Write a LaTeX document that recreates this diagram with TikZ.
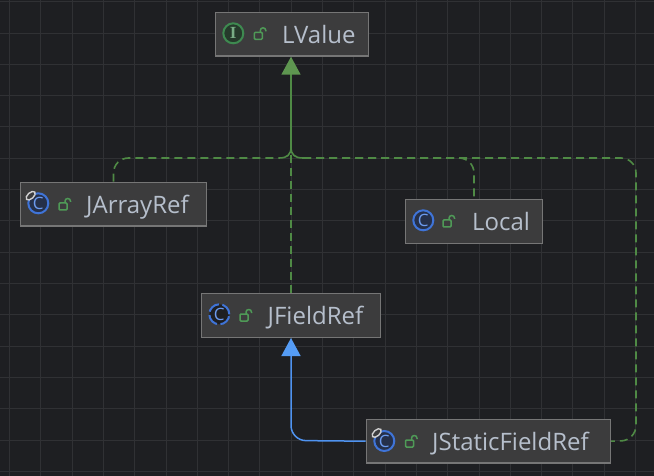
\documentclass[tikz,border=0pt]{standalone}
\usepackage{fontspec}
\setmainfont{Open Sans}
\newfontfamily\glyphfont{Liberation Serif}
\usetikzlibrary{arrows.meta,shapes.geometric}

\definecolor{canvas}{HTML}{1E1F22}
\definecolor{gridline}{HTML}{303134}
\definecolor{boxfill}{HTML}{3C3C3D}
\definecolor{boxline}{HTML}{767676}
\definecolor{namecolor}{HTML}{B6BFCC}
\definecolor{realizegreen}{HTML}{4F8A45}
\definecolor{tipgreen}{HTML}{5E9650}
\definecolor{extendblue}{HTML}{4F93F0}
\definecolor{tipblue}{HTML}{559CF5}
\definecolor{iconblue}{HTML}{3F74D8}
\definecolor{iconletter}{HTML}{6C9BEF}
\definecolor{iconfill}{HTML}{25304A}
\definecolor{icongreen}{HTML}{3E8A50}
\definecolor{icongreenfill}{HTML}{253A2B}
\definecolor{lockgreen}{HTML}{4F9A57}

\tikzset{
  classbox/.style={draw=boxline, fill=boxfill, line width=1.4pt, inner sep=0pt},
  classname/.style={anchor=base west, inner sep=0pt, text=namecolor, font=\fontsize{24}{28}\selectfont},
  classicon/.style={circle, draw=iconblue, fill=iconfill, line width=2pt, minimum size=20pt, inner sep=0pt,
    text=iconletter, font=\fontsize{17}{17}\selectfont},
  abstracticon/.style={classicon, fill=canvas, dash pattern=on 12.5pt off 3.5pt},
  ifaceicon/.style={classicon, draw=icongreen, fill=icongreenfill, text=icongreen!70!white, font=\glyphfont\fontsize{17}{17}\selectfont\bfseries},
  pinring/.style={ellipse, draw=white!82!black, fill=boxfill, line width=1.4pt, minimum width=11pt, minimum height=6pt, inner sep=0pt, rotate=42},
  realize/.style={draw=realizegreen, line width=1.6pt, dash pattern=on 8pt off 5pt, rounded corners=15pt},
  realizetip/.style={-{Triangle[length=18pt,width=19pt,color=tipgreen]}},
  extend/.style={draw=extendblue, line width=1.5pt, rounded corners=15pt,
    -{Triangle[length=18pt,width=19pt,color=tipblue]}},
  lock/.pic={
    \draw[lockgreen, line width=1.5pt, rounded corners=1pt] (-6,-1) rectangle (2,6);
    \draw[lockgreen, line width=1.5pt, rounded corners=2.7pt] (0,-1) -- (0,-5.5) -- (5.5,-5.5) -- (5.5,-2);
  }
}

\begin{document}
\begin{tikzpicture}[x=1pt, y=-1pt]
  \useasboundingbox[fill=canvas] (0,0) rectangle (654,476);
  % grid behind everything
  \foreach \k in {0,...,20} {
    \draw[gridline, line width=1pt] ({9.5+31.3*\k},0) -- ({9.5+31.3*\k},476);
  }
  \foreach \k in {0,...,15} {
    \draw[gridline, line width=1pt] (0,{1.8+31.3*\k}) -- (654,{1.8+31.3*\k});
  }

  % class boxes
  \node[classbox, minimum width=153pt, minimum height=43.6pt] (LValue) at (291.8,34.2) {};
  \node[classbox, minimum width=186.4pt, minimum height=43.6pt] (JArrayRef) at (113.5,204.2) {};
  \node[classbox, minimum width=137.4pt, minimum height=44pt] (Local) at (474,221.3) {};
  \node[classbox, minimum width=179.4pt, minimum height=44pt] (JFieldRef) at (291,315.3) {};
  \node[classbox, minimum width=244pt, minimum height=43.6pt] (JStaticFieldRef) at (488.3,441.2) {};

  % icons
  \node[ifaceicon] (LValueIcon) at (233.3,33.3) {I};
  \node[classicon] (JArrayRefIcon) at (38.3,203.3) {C};
  \node[pinring] (JArrayRefPin) at (30.7,195.7) {};
  \node[classicon] (LocalIcon) at (423.3,220.3) {C};
  \node[abstracticon] (JFieldRefIcon) at (219.3,314.3) {C};
  \node[classicon] (JStaticFieldRefIcon) at (384.3,441) {C};
  \node[pinring] (JStaticFieldRefPin) at (376.7,433) {};

  \pic at (260.3,33.3) {lock};
  \pic at (65,204) {lock};
  \pic at (449,221) {lock};
  \pic at (246,315) {lock};
  \pic at (411.5,441) {lock};

  % names
  \node[classname] (LValueName) at (282,43.3) {LValue};
  \node[classname] (JArrayRefName) at (86,213.3) {JArrayRef};
  \node[classname] (LocalName) at (472,230.3) {Local};
  \node[classname] (JFieldRefName) at (267.5,324.3) {JFieldRef};
  \node[classname] (JStaticFieldRefName) at (432,450.3) {JStaticFieldRef};

  \coordinate (mergeLeft) at (279,158);
  \coordinate (mergeRight) at (303,158);
  \coordinate (mergeTop) at (291,147);
  \coordinate (rightBend) at (636,158);
  \coordinate (bottomBend) at (636,440.5);
  \coordinate (blueBend) at (291,440.5);

  % realizations, both right ones start at mergeRight so their dashes coincide
  \draw[realize] (JArrayRef.north) |- (mergeLeft);
  \draw[realize] (mergeRight) -| (Local.north);
  \draw[realize] (mergeRight) -- (rightBend) -- (bottomBend) -- (JStaticFieldRef.east);
  \draw[realize] (JFieldRef.north) -- (mergeTop);
  % the two fillets into the trunk
  \draw[realize, solid] (mergeLeft) .. controls (287,158) and (291,155) .. (mergeTop);
  \draw[realize, solid] (mergeRight) .. controls (295,158) and (291,155) .. (mergeTop);
  \draw[realize, solid, realizetip] (mergeTop) -- (mergeTop |- LValue.south);
  % inheritance
  \draw[extend] (JStaticFieldRef.west) -- (blueBend) -- (JFieldRef.south);
\end{tikzpicture}
\end{document}
